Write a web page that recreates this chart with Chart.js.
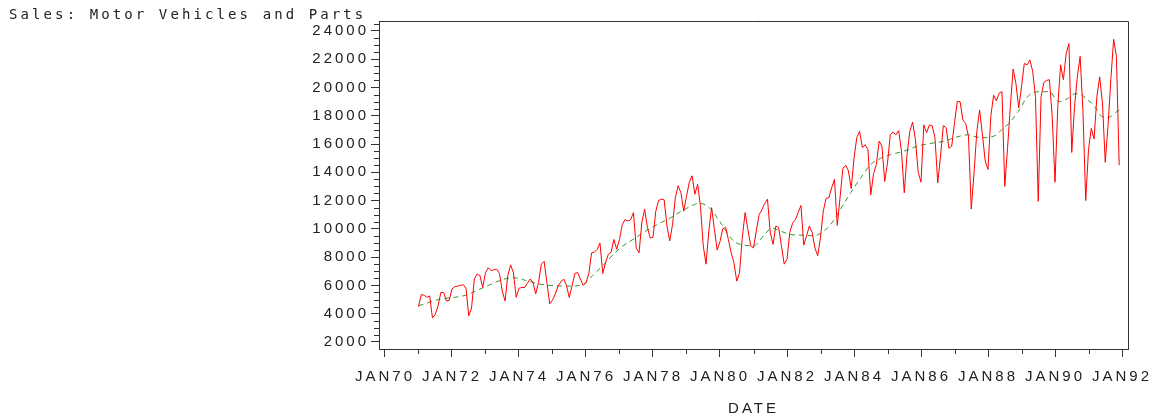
<!DOCTYPE html>
<html>
<head>
<meta charset="utf-8">
<script src="https://cdn.jsdelivr.net/npm/chart.js@4.4.1/dist/chart.umd.min.js"></script>
<style>
  html, body { margin: 0; padding: 0; background: #ffffff; }
  #wrap { width: 1155px; height: 418px; position: relative; }
</style>
</head>
<body>
<div id="wrap"><canvas id="c" width="1155" height="418"></canvas></div>
<script>
// ---------- data ----------
const chartTitle = 'Sales: Motor Vehicles and Parts';
const xAxisTitle = 'DATE';
const startYear = 1971;

// monthly sales, Jan 1971 .. Dec 1991 (one row per year)
const sales = [
  4500, 5350, 5300, 5150, 5250, 3700, 3950, 4550, 5500, 5500, 4900, 4950,
  5750, 5900, 5950, 6000, 6050, 5800, 3850, 4400, 6450, 6800, 6700, 5850,
  6900, 7250, 7050, 7100, 7150, 6850, 5600, 4900, 6700, 7450, 6900, 5150,
  5800, 5850, 5850, 6150, 6450, 6200, 5400, 6200, 7500, 7700, 6200, 4700,
  4950, 5400, 5950, 6250, 6450, 6000, 5150, 5950, 6850, 6900, 6450, 6000,
  6200, 6800, 8300, 8350, 8550, 9000, 6850, 7600, 8200, 8350, 9250, 8550,
  9250, 10300, 10650, 10550, 10650, 11150, 8650, 8300, 10450, 11400, 10100, 9350,
  9400, 11250, 12000, 12100, 12050, 10200, 9150, 10300, 12200, 13050, 12550, 11250,
  12300, 13300, 13750, 12450, 13150, 11600, 8800, 7500, 9850, 11500, 9950, 8500,
  9100, 10000, 10100, 9250, 8300, 7600, 6300, 6900, 9400, 11150, 9950, 8800,
  8650, 9850, 11000, 11350, 11800, 12100, 9750, 8900, 10200, 10100, 8800, 7500,
  7850, 9750, 10400, 10650, 11150, 11650, 8850, 9500, 10200, 9750, 8650, 8100,
  9400, 11250, 12150, 12200, 12900, 13500, 10250, 12200, 14250, 14500, 14100, 12850,
  15000, 16450, 16900, 15750, 15950, 15600, 12400, 13900, 14550, 16200, 15850, 13350,
  14650, 16650, 16850, 16650, 16950, 15500, 12550, 15250, 16900, 17550, 16300, 14000,
  13300, 17350, 16800, 17350, 17300, 16450, 13250, 15150, 17300, 17150, 15700, 15850,
  17500, 19000, 19000, 17700, 17450, 16550, 11400, 13950, 16900, 18400, 16650, 14800,
  14200, 17950, 19450, 19050, 19600, 19700, 13000, 15700, 18650, 21300, 20300, 18550,
  20050, 21700, 21600, 21950, 21150, 19350, 11950, 19350, 20350, 20500, 20550, 17950,
  13300, 18650, 21600, 20550, 22400, 23100, 15400, 18650, 20750, 22200, 18400, 12000,
  15600, 17100, 16350, 19350, 20750, 18900, 14700, 17300, 20550, 23400, 22200, 14500
];

// smoothed trend (dashed green), read at these dates
const trendDates = [
  1971.0, 1971.6, 1972.4, 1972.9, 1973.5, 1973.8, 1974.2, 1974.6, 1975.1, 1975.5,
  1975.9, 1976.2, 1976.5, 1977.0, 1977.5, 1978.0, 1978.5, 1979.0, 1979.4, 1979.7,
  1980.0, 1980.4, 1980.7, 1981.0, 1981.3, 1981.55, 1981.8, 1982.1, 1982.5, 1982.8,
  1983.1, 1983.3, 1983.6, 1983.9, 1984.2, 1984.5, 1984.8, 1985.1, 1985.5, 1985.9,
  1986.3, 1986.7, 1987.0, 1987.4, 1987.65, 1987.95, 1988.25, 1988.4, 1988.6, 1988.9,
  1989.15, 1989.35, 1989.6, 1989.85, 1990.0, 1990.15, 1990.4, 1990.6, 1990.8, 1990.95,
  1991.1, 1991.25, 1991.4, 1991.6, 1991.85, 1991.92
];
const trendValues = [
  4560, 5000, 5300, 5800, 6400, 6550, 6350, 6100, 5970, 5950,
  6050, 6700, 7400, 8600, 9400, 10150, 10750, 11450, 11800, 11450,
  10500, 9150, 8850, 8800, 9500, 10050, 9850, 9600, 9550, 9500,
  9850, 10300, 11400, 12550, 13600, 14550, 15000, 15250, 15500, 15850,
  16050, 16200, 16450, 16650, 16500, 16450, 16650, 17000, 17400, 18300,
  19250, 19650, 19700, 19700, 19250, 19000, 19250, 19550, 19480, 19130,
  18900, 18430, 17950, 17900, 18300, 18400
];

// axis ticks
const xTickYears  = [1970, 1972, 1974, 1976, 1978, 1980, 1982, 1984, 1986, 1988, 1990, 1992];
const xTickLabels = ['JAN70','JAN72','JAN74','JAN76','JAN78','JAN80','JAN82','JAN84','JAN86','JAN88','JAN90','JAN92'];
const xMinorYears = [1971, 1973, 1975, 1977, 1979, 1981, 1983, 1985, 1987, 1989, 1991];
const yTickValues = [2000, 4000, 6000, 8000, 10000, 12000, 14000, 16000, 18000, 20000, 22000, 24000];
const yMinorValues = [2500, 3000, 3500, 4500, 5000, 5500, 6500, 7000, 7500, 8500, 9000, 9500,
  10500, 11000, 11500, 12500, 13000, 13500, 14500, 15000, 15500, 16500, 17000, 17500,
  18500, 19000, 19500, 20500, 21000, 21500, 22500, 23000, 23500, 24500];

// ---------- styling ----------
const axisColor = '#333333';
const textColor = '#222222';
const tickFont = { family: '"Liberation Sans", Arial, sans-serif', size: 15 };
const tickSpacing = '3px';

const salesPoints = sales.map((v, i) => ({ x: startYear + i / 12, y: v }));
const trendPoints = trendDates.map((d, i) => ({ x: d, y: trendValues[i] }));

const spacingPlugin = {
  id: 'spacing',
  beforeUpdate(chart) { chart.ctx.letterSpacing = tickSpacing; },
  beforeLayout(chart) { chart.ctx.letterSpacing = tickSpacing; },
  beforeDraw(chart) { chart.ctx.letterSpacing = tickSpacing; }
};

const framePlugin = {
  id: 'frame',
  afterDraw(chart) {
    const { ctx, chartArea: a, scales } = chart;
    const xs = scales.x, ys = scales.y;
    ctx.save();
    ctx.strokeStyle = axisColor;
    ctx.lineWidth = 1;
    ctx.beginPath();
    ctx.moveTo(a.left, Math.round(a.top) + 0.5);
    ctx.lineTo(Math.round(a.right) + 0.5, Math.round(a.top) + 0.5);
    ctx.lineTo(Math.round(a.right) + 0.5, a.bottom);
    yMinorValues.forEach(v => {
      const py = Math.round(ys.getPixelForValue(v)) + 0.5;
      ctx.moveTo(a.left - 5, py); ctx.lineTo(a.left, py);
    });
    xMinorYears.forEach(v => {
      const px = Math.round(xs.getPixelForValue(v)) + 0.5;
      ctx.moveTo(px, a.bottom); ctx.lineTo(px, a.bottom + 5);
    });
    ctx.stroke();
    // title
    ctx.letterSpacing = '3.1px';
    ctx.font = '14px "DejaVu Sans Mono", monospace';
    ctx.fillStyle = textColor;
    ctx.textAlign = 'left';
    ctx.textBaseline = 'middle';
    ctx.fillText(chartTitle, 9, 15);
    ctx.restore();
  }
};

new Chart(document.getElementById('c'), {
  type: 'line',
  data: {
    datasets: [
      {
        label: 'Sales',
        data: salesPoints,
        borderColor: '#ff0000',
        borderWidth: 1,
        pointRadius: 0,
        tension: 0,
        fill: false
      },
      {
        label: 'Trend',
        data: trendPoints,
        borderColor: '#2e9a2e',
        borderWidth: 1,
        borderDash: [5, 4],
        pointRadius: 0,
        cubicInterpolationMode: 'monotone',
        fill: false
      }
    ]
  },
  options: {
    responsive: false,
    animation: false,
    devicePixelRatio: 1,
    layout: { padding: { left: 0, right: 27, top: 21, bottom: 0 } },
    plugins: { legend: { display: false }, tooltip: { enabled: false }, title: { display: false } },
    scales: {
      x: {
        type: 'linear',
        min: 1969.821,
        max: 1992.179,
        afterBuildTicks: s => { s.ticks = xTickYears.map(v => ({ value: v })); },
        afterFit: s => { s.height = 69; s.paddingLeft = 0; s.paddingRight = 0; },
        ticks: {
          callback: (v, i) => xTickLabels[i],
          font: tickFont, color: textColor, padding: 11,
          maxRotation: 0, autoSkip: false
        },
        grid: { drawOnChartArea: false, drawTicks: true, tickLength: 8, color: axisColor },
        border: { display: true, color: axisColor },
        title: { display: true, text: xAxisTitle, font: tickFont, color: textColor, padding: { top: 0, bottom: 0 } }
      },
      y: {
        type: 'linear',
        min: 1500,
        max: 24700,
        afterBuildTicks: s => { s.ticks = yTickValues.map(v => ({ value: v })); },
        afterFit: s => { s.width = 379; s.paddingTop = 0; s.paddingBottom = 0; },
        ticks: {
          callback: v => String(v),
          font: tickFont, color: textColor, padding: 2
        },
        grid: { drawOnChartArea: false, drawTicks: true, tickLength: 8, color: axisColor },
        border: { display: true, color: axisColor }
      }
    }
  },
  plugins: [spacingPlugin, framePlugin]
});
</script>
</body>
</html>
